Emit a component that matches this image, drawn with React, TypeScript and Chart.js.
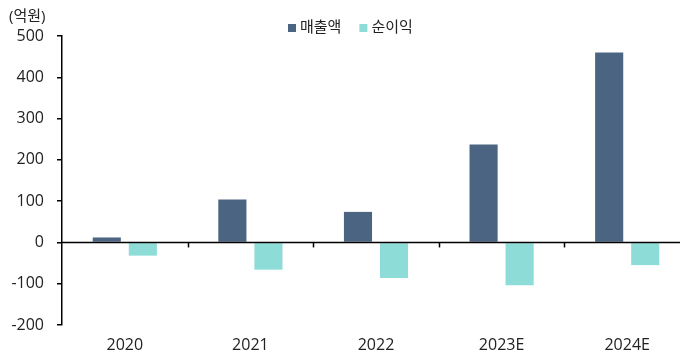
import React, { useEffect, useRef } from "react";
import { Chart, registerables } from "chart.js";

Chart.register(...registerables);

const categories = ["2020", "2021", "2022", "2023E", "2024E"];
const salesValues = [12, 104, 74, 237, 460];
const profitValues = [-32, -66, -86, -104, -55];
const seriesNames = ["매출액", "순이익"];
const seriesColors = ["#4a6482", "#8edcd8"];
const yTicks = [500, 400, 300, 200, 100, 0, -100, -200];
const unitLabel = "(억원)";

const FONT = "'Open Sans', 'Noto Sans CJK KR', sans-serif";

const overlay = {
  id: "overlay",
  afterDraw(chart: any) {
    const ctx = chart.ctx;
    const area = chart.chartArea;
    const y = chart.scales.y;
    const y0 = y.getPixelForValue(0);
    ctx.save();
    ctx.strokeStyle = "#000";
    ctx.lineWidth = 1.5;
    ctx.beginPath();
    ctx.moveTo(area.left, y0);
    ctx.lineTo(area.right, y0);
    ctx.stroke();
    const n = categories.length;
    const w = (area.right - area.left) / n;
    for (let i = 1; i < n; i++) {
      const px = Math.round(area.left + w * i) + 0.5;
      ctx.beginPath();
      ctx.moveTo(px, y0);
      ctx.lineTo(px, y0 + 5);
      ctx.stroke();
    }
    // unit label
    ctx.fillStyle = "#222";
    ctx.font = "15px " + FONT;
    ctx.textAlign = "left";
    ctx.textBaseline = "middle";
    ctx.fillText(unitLabel, 9, 17);
    // legend
    let lx = 288;
    const ly = 28;
    chart.data.datasets.forEach((ds: any) => {
      ctx.fillStyle = ds.backgroundColor;
      ctx.fillRect(lx, ly - 4, 8, 8);
      ctx.fillStyle = "#222";
      ctx.fillText(ds.label, lx + 12, ly);
      lx += 12 + ctx.measureText(ds.label).width + 18;
    });
    ctx.restore();
  },
};

export default function App() {
  const ref = useRef<HTMLCanvasElement | null>(null);
  useEffect(() => {
    if (!ref.current) return;
    const chart = new Chart(ref.current, {
      type: "bar",
      data: {
        labels: categories,
        datasets: [
          {
            label: seriesNames[0],
            data: salesValues,
            backgroundColor: seriesColors[0],
            categoryPercentage: 0.574,
            barPercentage: 0.78,
          },
          {
            label: seriesNames[1],
            data: profitValues,
            backgroundColor: seriesColors[1],
            categoryPercentage: 0.574,
            barPercentage: 0.78,
          },
        ],
      },
      options: {
        animation: false,
        responsive: false,
        maintainAspectRatio: false,
        layout: { padding: { top: 36, right: 10, left: 0, bottom: 0 } },
        plugins: { legend: { display: false }, tooltip: { enabled: false } },
        scales: {
          x: {
            grid: { display: false, drawTicks: false },
            border: { display: false },
            ticks: { padding: 11, color: "#222", font: { family: FONT, size: 16 } },
            afterFit: (s: any) => {
              s.height = 36;
            },
          },
          y: {
            min: -200,
            max: 500,
            afterBuildTicks: (s: any) => {
              s.ticks = yTicks.map((v) => ({ value: v }));
            },
            grid: { display: true, drawOnChartArea: false, drawTicks: true, tickLength: 5, color: "#000", lineWidth: 1.5 },
            border: { display: true, color: "#000", width: 1.5 },
            ticks: { padding: 13, color: "#222", font: { family: FONT, size: 16 } },
            afterFit: (s: any) => {
              s.width = 62;
            },
          },
        },
      },
      plugins: [overlay],
    });
    return () => chart.destroy();
  }, []);
  return (
    <div style={{ position: "absolute", left: 0, top: 0, width: 680, height: 361, overflow: "hidden", background: "#fff" }}>
      <canvas ref={ref} width={700} height={361} style={{ width: 700, height: 361, display: "block" }} />
    </div>
  );
}
